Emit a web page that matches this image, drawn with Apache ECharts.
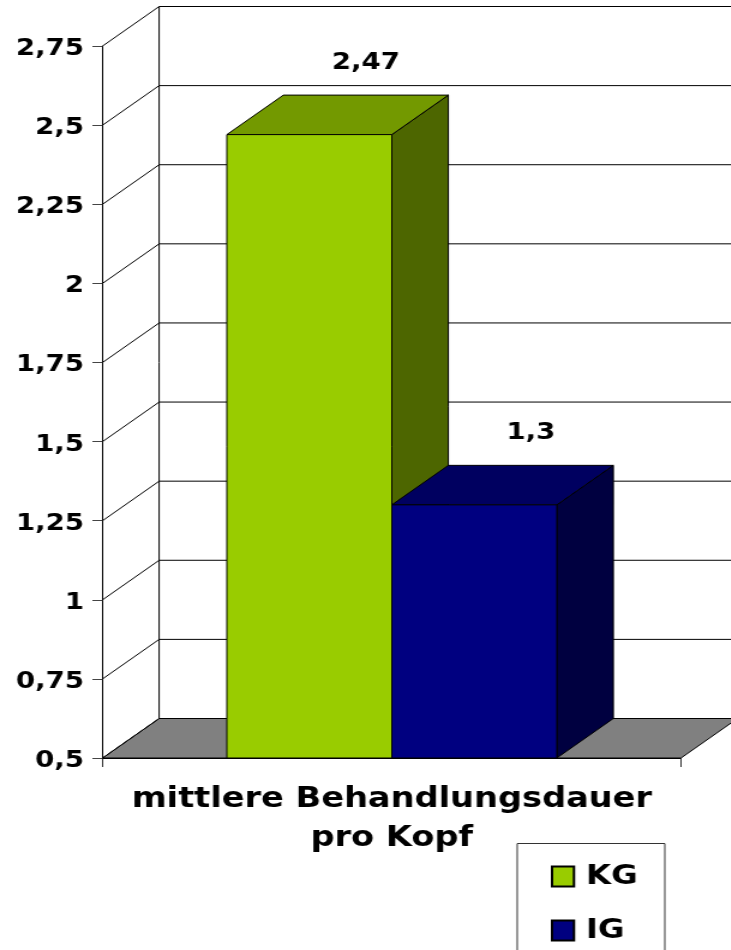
<!DOCTYPE html>
<html>
<head>
<meta charset="utf-8">
<style>
html,body{margin:0;padding:0;background:#fff;overflow:hidden;width:731px;height:950px}
#c{width:609.17px;height:950px;transform:scaleX(1.2);transform-origin:0 0}
</style>
<script src="https://cdn.jsdelivr.net/npm/echarts@6/dist/echarts.min.js"></script>
</head>
<body>
<div id="c"></div>
<script>
var categories = ['mittlere Behandlungsdauer\npro Kopf'];
var seriesNames = ['KG', 'IG'];
var kgValues = [2.47];
var igValues = [1.3];
var yTicks = [0.5, 0.75, 1, 1.25, 1.5, 1.75, 2, 2.25, 2.5, 2.75];

var DX = 47.1, DY = -39.5, BAR_W = 137.5;
var FONT = '"DejaVu Sans"';

function comma(v) { return String(v).replace('.', ','); }
var lineStyle = { stroke: '#000', lineWidth: 1, fill: null };

function poly(points, fill) {
  return { type: 'polygon', shape: { points: points }, style: { fill: fill, stroke: '#000', lineWidth: 1 } };
}

function renderWalls(params, api) {
  var p = api.coord([0, api.value(1)]);
  var cs = params.coordSys;
  var x0 = cs.x, x1 = cs.x + cs.width, y = p[1], bottom = cs.y + cs.height;
  var children = [];
  if (params.dataIndex === 0) {
    children.push(poly([[x0, y], [x1, y], [x1 + DX, y + DY], [x0 + DX, y + DY]], '#808080'));
    children.push({ type: 'line', shape: { x1: x0 + DX, y1: cs.y + DY, x2: x0 + DX, y2: bottom + DY }, style: lineStyle });
  }
  children.push({ type: 'line', shape: { x1: x0, y1: y, x2: x0 + DX, y2: y + DY }, style: lineStyle });
  children.push({ type: 'line', shape: { x1: x0 + DX, y1: y + DY, x2: x1 + DX, y2: y + DY }, style: lineStyle });
  return { type: 'group', children: children };
}

function barRenderer(offset, front, top, side) {
  return function (params, api) {
    var p = api.coord([api.value(0), api.value(1)]);
    var base = api.coord([api.value(0), 0.5]);
    var xl = p[0] + offset * BAR_W, xr = xl + BAR_W, yt = p[1], yb = base[1];
    return {
      type: 'group',
      children: [
        poly([[xr, yt], [xr + DX, yt + DY], [xr + DX, yb + DY], [xr, yb]], side),
        poly([[xl, yt], [xl + DX, yt + DY], [xr + DX, yt + DY], [xr, yt]], top),
        poly([[xl, yt], [xr, yt], [xr, yb], [xl, yb]], front),
        {
          type: 'text',
          style: {
            x: (xl + xr) / 2 + DX, y: yt + DY - 32,
            text: comma(api.value(1)),
            fill: '#000', font: 'bold 23px ' + FONT,
            align: 'center', verticalAlign: 'middle'
          }
        }
      ]
    };
  };
}

function legendAt(name, top) {
  return {
    orient: 'vertical', left: 459, top: top, padding: 0,
    data: [name],
    itemWidth: 18.3, itemHeight: 20, icon: 'rect',
    textStyle: { fontFamily: FONT, fontWeight: 'bold', fontSize: 27, lineHeight: 20, color: '#000', padding: [0, 0, 0, 5] },
    selectedMode: false
  };
}

var chart = echarts.init(document.getElementById('c'), null, { renderer: 'canvas' });
chart.setOption({
  animation: false,
  backgroundColor: '#fff',
  grid: { left: 85.5, top: 46, width: 482, height: 712, containLabel: false },
  graphic: [{
    type: 'rect', z: 0,
    shape: { x: 431, y: 843.5, width: 123, height: 130 },
    style: { fill: '#fff', stroke: '#333', lineWidth: 1 }
  }],
  legend: [legendAt(seriesNames[0], 863), legendAt(seriesNames[1], 917)],
  xAxis: {
    type: 'category', data: categories,
    axisLine: { lineStyle: { color: '#000', width: 1 } },
    axisTick: { show: true, length: 9, lineStyle: { color: '#333' } },
    axisLabel: { fontFamily: FONT, fontWeight: 'bold', fontSize: 28, lineHeight: 39, color: '#000', margin: 22 }
  },
  yAxis: {
    type: 'value', min: 0.5, max: 2.75, interval: 0.25,
    splitLine: { show: false },
    axisLine: { show: true, lineStyle: { color: '#000', width: 1 } },
    axisTick: { show: true, length: 8.5, lineStyle: { color: '#444' } },
    axisLabel: { fontFamily: FONT, fontWeight: 'bold', fontSize: 23, color: '#000', margin: 15.5, verticalAlign: 'top', lineHeight: 6, formatter: comma }
  },
  series: [
    {
      type: 'custom', name: 'walls', silent: true, z: 1,
      renderItem: renderWalls,
      encode: { x: 0, y: 1 },
      data: yTicks.map(function (t) { return [0, t]; })
    },
    {
      type: 'custom', name: seriesNames[0], z: 2,
      renderItem: barRenderer(-1, '#99CC00', '#739900', '#4D6600'),
      encode: { x: 0, y: 1 },
      itemStyle: { color: '#99CC00', borderColor: '#000', borderWidth: 1 },
      data: kgValues.map(function (v, i) { return [i, v]; })
    },
    {
      type: 'custom', name: seriesNames[1], z: 2,
      renderItem: barRenderer(0, '#000080', '#000060', '#000040'),
      encode: { x: 0, y: 1 },
      itemStyle: { color: '#000080', borderColor: '#000', borderWidth: 1 },
      data: igValues.map(function (v, i) { return [i, v]; })
    }
  ]
});
</script>
</body>
</html>
